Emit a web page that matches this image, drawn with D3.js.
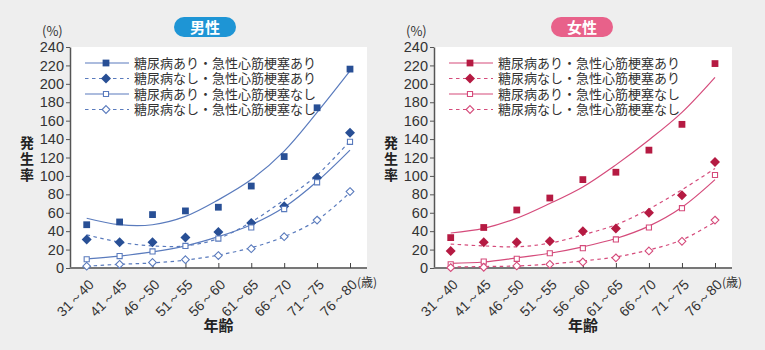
<!DOCTYPE html>
<html>
<head>
<meta charset="utf-8">
<script src="https://cdn.jsdelivr.net/npm/d3@7"></script>
<style>
  body { margin: 0; background: #eeeeee; }
  svg { display: block; font-family: "Noto Sans CJK JP", "Noto Sans", sans-serif; }
</style>
</head>
<body>
<svg id="chart" width="765" height="350"></svg>
<script>
// Age groups shown on the x axis
var ageGroups = ['31～40', '41～45', '46～50', '51～55', '56～60', '61～65', '66～70', '71～75', '76～80'];
var yTicks = [0, 20, 40, 60, 80, 100, 120, 140, 160, 180, 200, 220, 240];
var seriesNames = ['糖尿病あり・急性心筋梗塞あり', '糖尿病なし・急性心筋梗塞あり', '糖尿病あり・急性心筋梗塞なし', '糖尿病なし・急性心筋梗塞なし'];

// Male: observed rates (%)
var maleDmMi     = [47, 50, 58, 62, 66, 89, 121, 174, 216];
var maleNoDmMi   = [31, 28, 28, 33, 39, 49, 67, 98, 147];
var maleDmNoMi   = [9.5, 13, 18, 24, 32, 44, 64, 93, 137];
var maleNoDmNoMi = [2, 4, 6, 9, 13.5, 21, 34, 52, 83];
// Male: fitted trend lines (%)
var maleDmMiFit     = [54, 47, 47, 56, 74, 96, 127, 169, 214];
var maleNoDmMiFit   = [36, 28, 24, 24, 32, 50, 74, 101, 138];
var maleDmNoMiFit   = [10, 13, 17.5, 24, 34, 47, 66, 94, 128];
var maleNoDmNoMiFit = [2, 4, 5.5, 8.5, 14, 22, 34, 52, 82];

// Female: observed rates (%)
var femaleDmMi     = [33, 44, 63, 76, 96, 104, 128, 156, 222];
var femaleNoDmMi   = [18.5, 28, 28, 29, 40, 43, 60, 79, 115];
var femaleDmNoMi   = [4, 7, 10, 16, 21.5, 31, 44, 65, 101];
var femaleNoDmNoMi = [0.4, 0.8, 2.2, 4, 6.5, 11, 18.5, 29, 52];
// Female: fitted trend lines (%)
var femaleDmMiFit     = [38, 43, 54, 70, 88, 112, 139, 169, 207];
var femaleNoDmMiFit   = [26, 24, 23, 27, 36, 47, 64, 85, 108];
var femaleDmNoMiFit   = [5, 6.5, 11, 16, 23, 32, 45.5, 66, 96];
var femaleNoDmNoMiFit = [1, 1.6, 2.2, 4.3, 7.7, 12, 19.6, 30.5, 50];

var panels = [
    { title: '男性', left: 70, right: 367, badgeX: 205, badgeColor: '#1e95d5',
      lineColor: '#5a7bbd', markColor: '#284f95',
      obs: [maleDmMi, maleNoDmMi, maleDmNoMi, maleNoDmNoMi],
      fit: [maleDmMiFit, maleNoDmMiFit, maleDmNoMiFit, maleNoDmNoMiFit] },
    { title: '女性', left: 434, right: 732, badgeX: 582, badgeColor: '#e8618a',
      lineColor: '#d54b7b', markColor: '#b51a42',
      obs: [femaleDmMi, femaleNoDmMi, femaleDmNoMi, femaleNoDmNoMi],
      fit: [femaleDmMiFit, femaleNoDmMiFit, femaleDmNoMiFit, femaleNoDmNoMiFit] }
];

// A square diamond (rotated square) symbol
var symbolRhombus = {
    draw: function(context, size) {
        var r = Math.sqrt(size / 2);
        context.moveTo(0, -r);
        context.lineTo(r, 0);
        context.lineTo(0, r);
        context.lineTo(-r, 0);
        context.closePath();
    }
};

// marker styles for the four series: shape, filled, dashed
var styles = [
    { shape: d3.symbolSquare, filled: true,  dashed: false, size: 46 },
    { shape: symbolRhombus,   filled: true,  dashed: true,  size: 50 },
    { shape: d3.symbolSquare, filled: false, dashed: false, size: 26 },
    { shape: symbolRhombus,   filled: false, dashed: true,  size: 30 }
];

var svg = d3.select('#chart');
var plotTop = 47, plotBottom = 268;

var drawPanel = function(p) {
    var g = svg.append('g');

    // white plot area
    g.append('rect')
        .attr('x', p.left).attr('y', plotTop)
        .attr('width', p.right - p.left).attr('height', plotBottom - plotTop)
        .attr('fill', 'white');

    var x = d3.scalePoint().domain(ageGroups).range([p.left + 16.7, p.right - 17]);
    var y = d3.scaleLinear().domain([0, 240]).range([plotBottom, plotTop]);

    // y axis
    var yAxis = g.append('g')
        .attr('transform', 'translate(' + p.left + ',0)')
        .call(d3.axisLeft(y).tickValues(yTicks).tickSize(4).tickSizeOuter(0));
    yAxis.select('.domain').attr('stroke', '#555').attr('stroke-width', 1.5);
    yAxis.selectAll('.tick line').attr('stroke', '#555');
    yAxis.selectAll('.tick text')
        .attr('x', -6).attr('fill', '#333')
        .style('font-size', '14.5px').style('font-family', '"Liberation Sans", sans-serif');

    // x axis with ticks pointing up
    var xAxis = g.append('g')
        .attr('transform', 'translate(0,' + plotBottom + ')')
        .call(d3.axisTop(x).tickSize(5).tickSizeOuter(0));
    xAxis.select('.domain').attr('stroke', '#777').attr('stroke-width', 2)
        .attr('d', 'M' + p.left + ',0H' + p.right);
    xAxis.selectAll('.tick line').attr('stroke', '#444');
    xAxis.selectAll('.tick text')
        .attr('fill', '#333')
        .style('font-size', '14px')
        .attr('text-anchor', 'end')
        .attr('x', 0).attr('y', 0).attr('dy', '0.35em')
        .attr('transform', 'translate(4,14) rotate(-45)');

    // axis captions
    g.append('text').attr('x', p.left - 28).attr('y', 36)
        .attr('fill', '#333').style('font-size', '13px').text('(%)');
    g.append('text').attr('x', p.right - 10).attr('y', 287)
        .attr('fill', '#333').style('font-size', '12px').text('(歳)');
    g.append('text').attr('x', (p.left + p.right) / 2).attr('y', 331)
        .attr('text-anchor', 'middle').attr('fill', '#222')
        .style('font-size', '15px').style('font-weight', 'bold').text('年齢');
    // vertical y label
    g.append('text')
        .attr('x', p.left - 43).attr('y', 136)
        .style('writing-mode', 'vertical-rl')
        .style('text-orientation', 'upright')
        .style('letter-spacing', '2px')
        .attr('fill', '#222').style('font-size', '14px').style('font-weight', 'bold')
        .text('発生率');

    // title badge
    g.append('rect').attr('x', p.badgeX - 31).attr('y', 17)
        .attr('width', 62).attr('height', 20).attr('rx', 10)
        .attr('fill', p.badgeColor);
    g.append('text').attr('x', p.badgeX).attr('y', 33)
        .attr('text-anchor', 'middle').attr('fill', 'white')
        .style('font-size', '15px').style('font-weight', 'bold').text(p.title);

    // trend lines
    var line = d3.line()
        .x(function(d, i) { return x(ageGroups[i]); })
        .y(function(d) { return y(d); })
        .curve(d3.curveCatmullRom);
    p.fit.forEach(function(vals, s) {
        g.append('path').datum(vals)
            .attr('d', line)
            .attr('fill', 'none')
            .attr('stroke', p.lineColor)
            .attr('stroke-width', 1.2)
            .attr('stroke-dasharray', styles[s].dashed ? '3.5,3.5' : null);
    });

    // observed points
    p.obs.forEach(function(vals, s) {
        var st = styles[s];
        g.selectAll('.pt' + s).data(vals)
            .enter().append('path')
            .attr('class', 'pt' + s)
            .attr('transform', function(d, i) { return 'translate(' + x(ageGroups[i]) + ',' + y(d) + ')'; })
            .attr('d', d3.symbol().type(st.shape).size(st.size))
            .attr('fill', st.filled ? p.markColor : 'white')
            .attr('stroke', st.filled ? p.markColor : p.lineColor)
            .attr('stroke-width', st.filled ? 0 : 1.1);
    });

    // legend
    var lx = p.left + 15;
    seriesNames.forEach(function(name, s) {
        var st = styles[s];
        var ly = 63 + s * 15.5;
        var row = g.append('g');
        row.append('line')
            .attr('x1', lx).attr('x2', lx + 44).attr('y1', ly).attr('y2', ly)
            .attr('stroke', p.lineColor).attr('stroke-width', 1.2)
            .attr('stroke-dasharray', st.dashed ? '3.5,3.5' : null);
        row.append('path')
            .attr('transform', 'translate(' + (lx + 21) + ',' + ly + ')')
            .attr('d', d3.symbol().type(st.shape).size(st.size))
            .attr('fill', st.filled ? p.markColor : 'white')
            .attr('stroke', st.filled ? p.markColor : p.lineColor)
            .attr('stroke-width', st.filled ? 0 : 1.1);
        row.append('text')
            .attr('x', lx + 49).attr('y', ly).attr('dy', '0.35em')
            .attr('fill', '#333').style('font-size', '13px')
            .text(name);
    });
};

panels.forEach(drawPanel);
</script>
</body>
</html>
